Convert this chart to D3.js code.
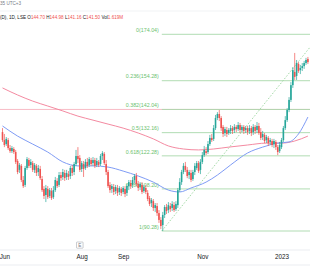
<!DOCTYPE html>
<html lang="en">
<head>
<meta charset="UTF-8" />
<title>Daily candles with Fibonacci retracement</title>
<script src="https://d3js.org/d3.v7.min.js"></script>
<style>
  body { margin: 0; padding: 0; background: #ffffff; font-family: "Liberation Sans", Arial, sans-serif; }
  #chart { width: 310px; height: 280px; overflow: hidden; }
</style>
</head>
<body>
<div id="chart"></div>
<script>
// ---- data (daily OHLC, Jun 2022 - Jan 2023) ----
const opens = [
  132.4,129.0,127.3,129.0,125.6,124.3,125.2,123.9,120.1,116.3,
  118.0,112.0,109.9,117.1,120.5,118.4,119.2,116.3,118.0,115.4,
  116.7,112.4,108.2,105.6,108.2,105.2,107.3,104.7,107.7,111.6,
  109.9,114.1,113.3,115.0,113.3,114.5,113.7,117.1,115.4,118.8,
  122.2,121.4,116.7,118.8,117.1,119.7,118.4,120.5,119.2,120.5,
  118.4,119.7,118.8,122.2,123.1,118.8,115.4,109.9,108.2,109.0,
  107.3,108.6,106.9,108.2,106.9,108.2,106.5,109.4,110.7,109.9,
  112.0,113.7,110.3,109.0,109.9,107.3,108.6,106.5,104.3,102.2,
  103.0,100.1,100.9,97.9,95.0,92.8,97.1,100.5,99.2,100.9,
  100.1,101.3,99.6,101.3,107.7,111.1,115.4,118.0,116.3,114.1,
  115.0,112.4,115.4,117.1,119.2,116.3,119.7,122.6,124.3,123.9,
  127.3,129.9,129.5,134.1,138.4,140.1,138.4,134.6,132.0,133.3,
  132.0,132.9,134.1,133.3,134.6,133.7,135.4,133.3,134.6,133.3,
  134.1,132.9,134.1,132.4,134.6,133.3,135.0,132.4,130.3,131.2,
  129.0,129.9,128.2,128.6,127.3,128.2,126.0,124.3,126.0,129.0,
  134.1,137.5,141.8,146.1,152.4,158.0,156.3,161.4,158.8,159.7,
  160.5,161.8,163.5
];
const highs = [
  134.1,131.6,130.3,129.9,126.9,126.5,126.0,124.8,120.9,119.2,
  118.8,113.7,118.0,121.8,121.4,120.9,120.1,119.2,118.8,118.4,
  118.0,113.7,109.4,109.9,109.4,108.6,108.6,109.4,113.3,112.8,
  115.4,115.4,116.7,116.3,116.3,115.8,118.0,118.4,119.7,124.8,
  126.0,122.6,120.1,120.1,120.9,121.4,121.8,121.4,121.8,121.4,
  121.4,120.5,123.1,124.3,123.9,120.5,116.3,111.1,110.3,110.3,
  109.9,109.9,109.4,109.0,109.4,109.4,110.3,112.0,112.0,113.3,
  114.5,115.0,111.6,111.1,111.1,109.9,109.9,107.7,105.2,104.3,
  103.9,102.2,102.2,99.2,96.2,98.4,101.3,101.8,102.6,102.2,
  103.0,102.6,103.0,108.6,112.8,116.3,119.2,119.7,117.5,116.3,
  116.3,116.3,119.2,120.1,120.1,120.9,123.9,126.5,126.0,128.6,
  131.2,131.6,135.4,139.7,140.9,141.8,139.2,135.4,134.6,134.6,
  134.1,135.4,135.0,135.8,135.4,136.7,136.3,135.4,135.4,135.0,
  135.0,135.4,135.0,135.8,135.4,136.7,136.3,134.1,132.9,132.0,
  131.2,130.7,129.9,129.5,129.5,129.0,126.9,128.2,129.9,135.0,
  139.2,142.6,147.3,153.7,160.1,166.1,163.1,162.2,161.0,161.8,
  162.7,164.0,164.4
];
const lows = [
  128.2,126.0,126.5,124.8,123.5,123.5,123.1,118.8,114.5,115.0,
  111.1,108.6,109.0,116.3,117.1,117.1,115.4,115.0,113.7,113.7,
  112.0,106.9,103.9,102.6,103.9,104.3,103.5,103.9,106.9,108.6,
  109.0,111.6,112.0,111.6,112.0,112.0,112.4,113.7,114.1,118.0,
  119.2,115.4,115.4,113.3,116.3,117.1,117.5,118.0,118.0,117.1,
  117.5,117.5,118.0,120.5,118.4,114.1,108.6,106.5,106.5,105.6,
  106.0,105.2,105.6,105.2,106.0,104.7,105.2,107.7,108.2,108.6,
  110.7,109.4,107.3,107.7,106.0,106.5,106.0,103.0,100.9,100.5,
  98.8,98.4,96.7,93.7,91.1,90.3,95.8,97.5,97.9,98.4,
  98.8,98.4,98.8,100.1,106.9,109.9,114.5,115.4,112.8,112.4,
  111.1,111.6,114.1,116.3,115.0,114.5,118.8,121.8,122.6,123.1,
  126.5,128.2,128.6,133.3,137.5,137.1,132.9,130.3,130.7,130.3,
  131.2,131.6,131.6,132.0,132.4,132.9,132.0,132.4,131.6,132.0,
  131.2,131.6,130.7,131.2,131.6,132.0,131.2,129.0,129.0,127.7,
  127.7,126.5,126.9,126.0,125.6,124.8,122.6,123.5,125.2,128.2,
  133.3,136.7,140.9,145.2,151.2,154.6,154.6,157.6,157.1,158.4,
  159.3,161.0,161.4
];
const closes = [
  129.0,126.9,129.5,125.6,124.3,125.6,123.9,119.7,115.4,118.4,
  112.0,109.4,117.1,120.9,118.0,119.7,116.3,118.4,115.0,117.1,
  112.8,107.7,105.2,108.6,104.7,107.7,104.3,107.7,112.0,109.4,
  114.1,112.8,115.4,112.8,115.0,113.3,117.1,115.0,118.8,122.2,
  120.9,116.3,119.2,116.7,119.7,118.0,120.9,118.8,120.5,118.0,
  120.1,118.4,122.2,123.5,119.2,115.4,109.4,107.7,109.4,106.9,
  109.0,106.5,108.6,106.5,108.6,106.0,109.4,111.1,109.4,112.0,
  113.7,110.3,108.6,110.3,106.9,109.0,106.9,103.9,101.8,103.5,
  100.1,101.3,97.9,95.0,92.4,97.1,100.5,98.8,101.3,99.6,
  101.8,99.2,101.8,107.7,111.1,115.4,118.0,116.3,113.7,115.4,
  112.0,115.4,118.0,119.2,115.8,119.7,122.6,124.8,123.5,127.3,
  129.9,129.0,134.1,138.4,140.1,138.4,134.1,131.6,133.7,131.6,
  133.3,134.1,132.9,134.6,133.7,135.4,133.3,134.6,132.9,134.1,
  132.4,134.1,132.0,134.6,132.9,135.0,132.0,129.9,131.6,128.6,
  130.3,127.7,129.0,126.9,128.6,126.0,123.9,126.9,129.0,134.1,
  137.5,141.8,146.1,152.4,158.8,155.9,161.8,158.4,159.7,160.5,
  161.8,163.1,162.2
];

// moving averages, read at a few bar positions
const blueIdx  = [0, 8, 16, 24, 32, 40, 48, 56, 64, 72, 80, 88, 94, 100, 108, 114, 121, 130, 138, 146, 152, 157, 162];
const blueVals = [135.0,130.7,127.3,123.9,119.7,118.0,118.0,117.5,115.8,113.7,111.1,107.7,106.9,108.6,111.1,114.1,118.4,123.5,126.0,127.7,128.2,131.6,138.8];
const pinkIdx  = [0, 8, 16, 24, 32, 40, 48, 56, 64, 72, 80, 88, 96, 104, 112, 120, 130, 140, 148, 155, 162];
const pinkVals = [151.2,148.2,145.6,143.5,141.4,139.2,137.5,135.8,134.1,132.0,129.5,126.5,125.2,124.8,125.2,126.0,126.9,127.7,127.7,128.6,130.7];

// fibonacci retracement
const fibLevels = ["0", "0.236", "0.382", "0.5", "0.618", "0.786", "1"];
const fibPrices = [174.04, 154.28, 142.04, 132.16, 122.28, 108.20, 90.28];
const fibStartIdx = 84.5;

// time axis
const tickIdx = [1, 42, 64, 106, 148];
const tickLabels = ["Jun", "Aug", "Sep", "Nov", "2023"];
const earningsIdx = 41;

// ---- drawing ----
const width = 310, height = 280;
const up = "#26a69a", down = "#ef5350";
const fibGreen = "#a8d8aa", fibText = "#6cbf70";

const svg = d3.select("#chart").append("svg")
  .attr("width", width).attr("height", height)
  .style("background", "#ffffff");

const x = d3.scaleLinear().domain([0, closes.length - 1]).range([2.5, 307.9]);
const y = d3.scaleLinear().domain([90.28, 174.04]).range([231, 34.3]);

// legend lines at the top
svg.append("text").attr("x", 0).attr("y", 5)
  .attr("font-size", 4.6).attr("fill", "#787b86").text("35 UTC+3");
svg.append("line").attr("x1", 0).attr("x2", width).attr("y1", 11).attr("y2", 11)
  .attr("stroke", "#eef0f3").attr("stroke-width", 0.8);

const legend = svg.append("text").attr("x", 0).attr("y", 18.5).attr("font-size", 4.6).attr("fill", "#131722");
legend.append("tspan").text("(D), 1D, LSE ");
const ohlc = [["O", "144.70"], ["H", "144.98"], ["L", "141.16"], ["C", "141.50"], ["Vol", "1.619M"]];
ohlc.forEach(([k, v]) => {
  legend.append("tspan").attr("fill", "#131722").text(k);
  legend.append("tspan").attr("fill", down).text(v + " ");
});

// horizontal ray at the 0.382 level, running across the whole chart
svg.append("line")
  .attr("x1", 0).attr("x2", width)
  .attr("y1", y(fibPrices[2])).attr("y2", y(fibPrices[2]))
  .attr("stroke", "#f7b3bf").attr("stroke-width", 0.9);

// fib levels
const fib = svg.append("g");
fibPrices.forEach((p, i) => {
  fib.append("line")
    .attr("x1", x(fibStartIdx)).attr("x2", width)
    .attr("y1", y(p)).attr("y2", y(p))
    .attr("stroke", fibGreen).attr("stroke-width", 0.9);
  fib.append("text")
    .attr("x", x(fibStartIdx) - 3).attr("y", y(p) - 2.3)
    .attr("text-anchor", "end").attr("font-size", 5.3)
    .attr("fill", fibText)
    .text(`${fibLevels[i]}(${p.toFixed(2)})`);
});

// trend line between the fib anchors
svg.append("line")
  .attr("x1", x(fibStartIdx)).attr("y1", y(fibPrices[6]))
  .attr("x2", x(fibStartIdx) + 160).attr("y2", y(fibPrices[6]) - 160 * 1.24)
  .attr("stroke", "#8fd093").attr("stroke-width", 0.8)
  .attr("stroke-dasharray", "1.6,1.6");

// moving averages
const lineGen = d3.line().curve(d3.curveMonotoneX);
svg.append("path")
  .attr("d", lineGen(pinkIdx.map((d, i) => [x(d), y(pinkVals[i])])))
  .attr("fill", "none").attr("stroke", "#f48aa1").attr("stroke-width", 1);
svg.append("path")
  .attr("d", lineGen(blueIdx.map((d, i) => [x(d), y(blueVals[i])])))
  .attr("fill", "none").attr("stroke", "#7f9cf5").attr("stroke-width", 1);

// candles
const bars = svg.append("g").selectAll("g").data(closes.map((c, i) => i)).join("g");
bars.append("line")
  .attr("x1", d => x(d)).attr("x2", d => x(d))
  .attr("y1", d => y(highs[d])).attr("y2", d => y(lows[d]))
  .attr("stroke", d => closes[d] >= opens[d] ? up : down)
  .attr("stroke-width", 0.7);
bars.append("rect")
  .attr("x", d => x(d) - 0.8).attr("width", 1.6)
  .attr("y", d => y(Math.max(opens[d], closes[d])))
  .attr("height", d => Math.max(0.6, Math.abs(y(opens[d]) - y(closes[d]))))
  .attr("fill", d => closes[d] >= opens[d] ? up : down);

// time axis
svg.append("line").attr("x1", 0).attr("x2", width).attr("y1", 250).attr("y2", 250)
  .attr("stroke", "#e6e8ee").attr("stroke-width", 0.8);
svg.append("line").attr("x1", 0).attr("x2", width).attr("y1", 265).attr("y2", 265)
  .attr("stroke", "#e6e8ee").attr("stroke-width", 0.8);

const axis = d3.axisBottom(x).tickValues(tickIdx).tickFormat((d, i) => tickLabels[i]).tickSize(0).tickPadding(4.5);
const ax = svg.append("g").attr("transform", "translate(0,250)").call(axis);
ax.select(".domain").remove();
ax.selectAll("text").attr("font-size", 6.3).attr("fill", "#131722")
  .attr("font-family", "'Liberation Sans', Arial, sans-serif");

// earnings marker
const ex = x(earningsIdx);
svg.append("rect").attr("x", ex - 3.3).attr("y", 242).attr("width", 6.6).attr("height", 6.2)
  .attr("fill", "#fff").attr("stroke", "#9598a1").attr("stroke-width", 0.5).attr("rx", 0.6);
svg.append("text").attr("x", ex).attr("y", 247.2).attr("text-anchor", "middle")
  .attr("font-size", 4.6).attr("fill", "#787b86").text("E");
</script>
</body>
</html>
